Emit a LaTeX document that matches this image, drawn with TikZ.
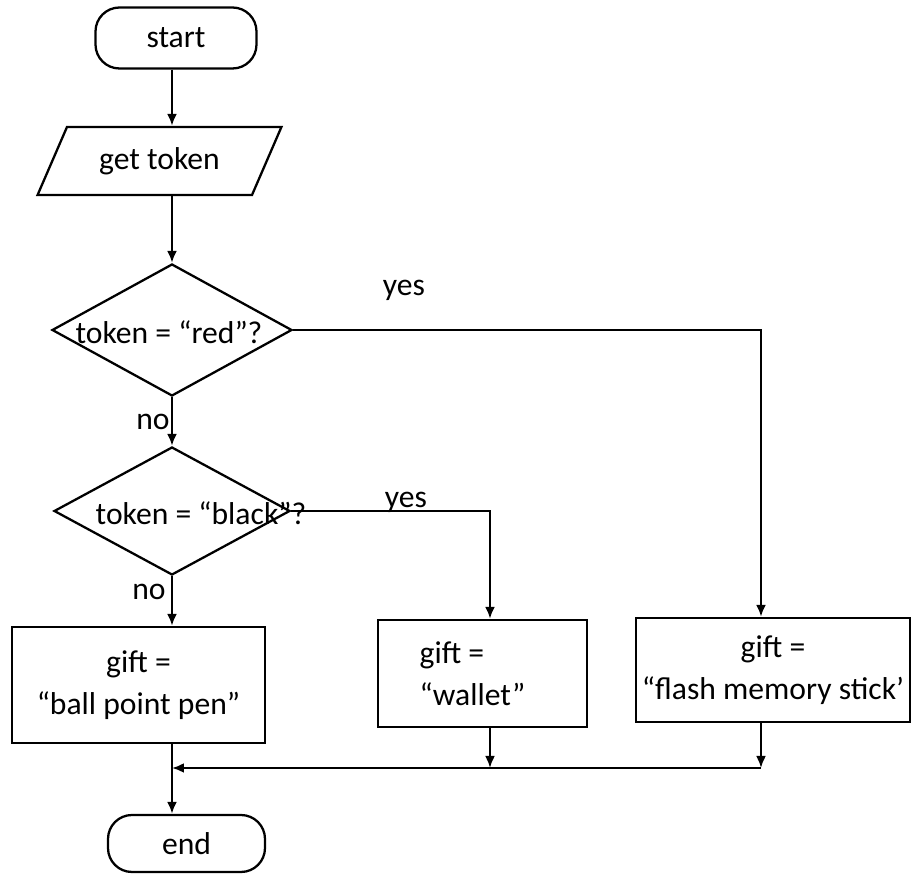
\documentclass[tikz,border=0pt]{standalone}
\usepackage{fontspec}
\setmainfont{Carlito}
\usetikzlibrary{shapes.geometric,arrows.meta}
\newlength\px
\setlength\px{0.02cm}
\tikzset{
  chart/.style={x=\px,y=-\px,line width=1.3pt,
    font=\fontsize{18pt}{24pt}\selectfont,
    >={Latex[length=0.24cm,width=0.2cm]}},
  terminal/.style={draw,rectangle,rounded corners=0.48cm,inner sep=0pt},
  inout/.style={draw,trapezium,trapezium left angle=55,trapezium right angle=125,
    trapezium stretches=true,inner sep=0pt},
  decision/.style={draw,diamond,inner sep=0pt},
  process/.style={draw,rectangle,inner sep=0pt,align=center},
}
\begin{document}
\begin{tikzpicture}[chart]
    \useasboundingbox (0,0) rectangle (914,874);

    % columns of the connectors
    \coordinate (colL) at (172,0);
    \coordinate (colM) at (490,0);
    \coordinate (colR) at (761,0);
    \coordinate (join) at (0,768);

    \node[terminal,minimum width=161\px,minimum height=61\px] (start) at (176,38) {start};
    \node[inout,minimum width=245\px,minimum height=68\px] (token) at (159.5,161) {get token};

    \node[decision,minimum width=240\px,minimum height=132\px] (red) at (172,330) {};
    \node (redq) at (169,332) {token = “red”?};
    \node[decision,minimum width=236\px,minimum height=128\px] (black) at (172,511) {};
    \node (blackq) at (201,513) {token = “black”?};

    \node[process,minimum width=253\px,minimum height=116\px] (pen) at (138.5,685) {gift =\\“ball point pen”};
    \node[process,align=left,minimum width=209\px,minimum height=107\px] (wallet) at (482.5,673.5) {gift =\\“wallet”\hspace*{0.4cm}};
    \node[process,minimum width=274\px,minimum height=104\px] (flash) at (773,670) {gift =\\“flash memory stick’};

    \node[terminal,minimum width=157\px,minimum height=57\px] (stop) at (186.5,843.5) {end};

    \node (yes1) at (404,290) {yes};
    \node (no1) at (153,422) {no};
    \node[anchor=base] (yes2) at (406,508) {yes};
    \node (no2) at (149,592) {no};

    \draw[->] (colL |- start.south) -- (colL |- token.north);
    \draw[->] (colL |- token.south) -- (red.north);
    \draw[->] (red.south) -- (black.north);
    \draw[->] (red.east) -| (colR |- flash.north);
    \draw[->] (black.east) -| (colM |- wallet.north);
    \draw[->] (black.south) -- (black.south |- pen.north);
    \draw[->] (black.south |- pen.south) -- (black.south |- stop.north);

    \draw[->] (colM |- wallet.south) -- (colM |- join);
    \draw[->] (colR |- flash.south) -- (colR |- join);
    \draw[->] (colR |- join) -- (black.south |- join);
\end{tikzpicture}
\end{document}
